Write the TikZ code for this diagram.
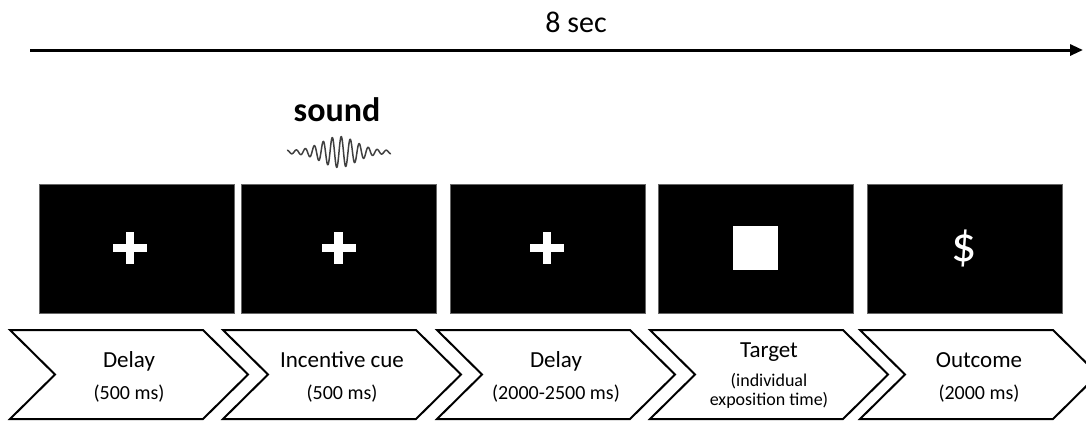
\documentclass[tikz,border=0pt]{standalone}
\usepackage{fontspec}
\setmainfont{Carlito}
\usetikzlibrary{arrows.meta}

\tikzset{
  screen/.style={fill=black, draw=black!60, line width=0.6pt, inner sep=0pt,
    minimum width=195pt, minimum height=129pt},
  chevron/.style={draw=black, line width=2pt, line join=miter, fill=white},
  phase/.style={anchor=base, inner sep=0pt, font=\fontsize{23}{27}\selectfont},
  dur/.style={anchor=base, inner sep=0pt, font=\fontsize{20}{24}\selectfont},
  durs/.style={anchor=base, inner sep=0pt, font=\fontsize{18}{22}\selectfont},
  timeline/.style={line width=3pt, -{Triangle[length=13pt,width=11pt]}},
  wave/.style={draw=black!75, line width=1.5pt, line join=round}
}

% white fixation cross centred at (#1,#2)
\newcommand{\fixcross}[2]{%
  \fill[white] (#1-17,#2-4.3) rectangle (#1+17,#2+4.3);
  \fill[white] (#1-4.3,#2-16) rectangle (#1+4.3,#2+16);}

% chevron-shaped phase label, left top corner at x = #1
\newcommand{\chev}[1]{%
  \draw[chevron] (#1,330) -- (#1+193,330) -- (#1+238,374.5) -- (#1+193,419)
    -- (#1,419) -- (#1+45,374.5) -- cycle;}

\begin{document}
\begin{tikzpicture}[x=1pt, y=-1pt]
\useasboundingbox (0,0) rectangle (1086,421);
\clip (0,0) rectangle (1086,421);

% time axis
\node[anchor=base, inner sep=0pt, font=\fontsize{30}{34}\selectfont] (total) at (576,32) {8 sec};
\coordinate (tstart) at (30,50);
\coordinate (tend) at (1083,50);
\draw[timeline] (tstart) -- (tend);

% auditory cue
\node[anchor=base, inner sep=0pt, font=\fontsize{34}{38}\selectfont\bfseries] (sound) at (337,121.5) {sound};
\draw[wave] plot[domain=-52:52, samples=500, smooth]
  ({339+\x}, {152 - (1.5 + 14*exp(-((\x/24)^2)))*sin(\x/9*360)});

% screens
\node[screen] (s1) at (136.5,248.5) {};
\node[screen] (s2) at (339,248.5) {};
\node[screen] (s3) at (548,248.5) {};
\node[screen] (s4) at (756,248.5) {};
\node[screen] (s5) at (964.5,248.5) {};

\fixcross{130}{248}
\fixcross{338.5}{248}
\fixcross{547}{248}
\fill[white] (733,226) rectangle (778,270);
\node[text=white, inner sep=0pt, font=\fontsize{50}{54}\selectfont] (dollar) at (964.5,248) {\$};

% phase chevrons
\chev{10}
\chev{223}
\chev{437}
\chev{650}
\chev{860}

\node[phase] (p1) at (129,367) {Delay};
\node[dur]   (d1) at (129,399) {(500 ms)};
\node[phase] (p2) at (342,367) {Incentive cue};
\node[dur]   (d2) at (342,399) {(500 ms)};
\node[phase] (p3) at (556,367) {Delay};
\node[dur]   (d3) at (556,399) {(2000-2500 ms)};
\node[phase] (p4) at (769,357) {Target};
\node[durs]  (d4a) at (769,386) {(individual};
\node[durs]  (d4b) at (769,405) {exposition time)};
\node[phase] (p5) at (979,367) {Outcome};
\node[dur]   (d5) at (979,399) {(2000 ms)};
\end{tikzpicture}
\end{document}
